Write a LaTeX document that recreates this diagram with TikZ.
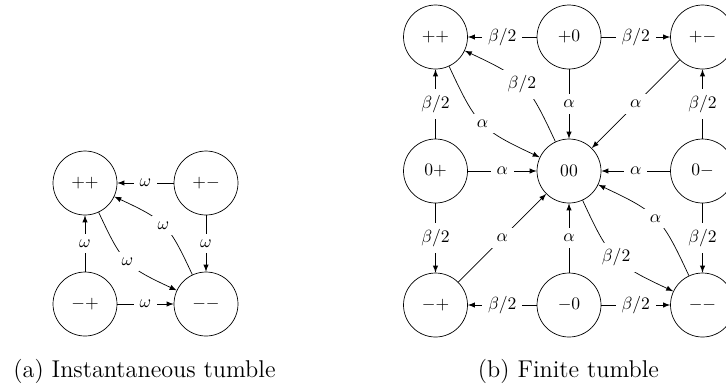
\documentclass[tikz,border=0pt]{standalone}
\usepackage{tikz}
\usetikzlibrary{arrows}

\begin{document}
\begin{tikzpicture}[x=0.02cm,y=-0.02cm,
        state/.style={draw,circle,minimum size=1.28cm,inner sep=0pt},
        lbl/.style={fill=white,midway},
        captext/.style={anchor=base,font=\fontsize{13.8}{16}\selectfont}]
            \useasboundingbox (0,0) rectangle (726,383);
            % (a) instantaneous tumble
            \node[state] (app) at (85,183) {$++$};
            \node[state] (apm) at (206,183) {$+-$};
            \node[state] (amp) at (85,304) {$-+$};
            \node[state] (amm) at (206,304) {$--$};
            \draw[-latex] (apm) -- node[lbl] {$\omega$} (app);
            \draw[-latex] (amp) -- node[lbl] {$\omega$} (app);
            \draw[-latex] (apm) -- node[lbl] {$\omega$} (amm);
            \draw[-latex] (amp) -- node[lbl] {$\omega$} (amm);
            \draw[-latex] (app) to[bend right=20,looseness=1.3] node[lbl] {$\omega$} (amm);
            \draw[-latex] (amm) to[bend right=20,looseness=1.3] node[lbl] {$\omega$} (app);
            \node[captext] (capa) at (144.5,377) {(a) Instantaneous tumble};
            % (b) finite tumble
            \node[state] (bpp) at (435.5,37) {$++$};
            \node[state] (bpz) at (569,37) {$+0$};
            \node[state] (bpm) at (702.5,37) {$+-$};
            \node[state] (bzp) at (435.5,171) {$0+$};
            \node[state] (bzz) at (569,171) {$00$};
            \node[state] (bzm) at (702.5,171) {$0-$};
            \node[state] (bmp) at (435.5,305) {$-+$};
            \node[state] (bmz) at (569,305) {$-0$};
            \node[state] (bmm) at (702.5,305) {$--$};
            \draw[-latex] (bpz) -- node[lbl] {$\beta/2$} (bpp);
            \draw[-latex] (bpz) -- node[lbl] {$\beta/2$} (bpm);
            \draw[-latex] (bmz) -- node[lbl] {$\beta/2$} (bmp);
            \draw[-latex] (bmz) -- node[lbl] {$\beta/2$} (bmm);
            \draw[-latex] (bzp) -- node[lbl] {$\beta/2$} (bpp);
            \draw[-latex] (bzp) -- node[lbl] {$\beta/2$} (bmp);
            \draw[-latex] (bzm) -- node[lbl] {$\beta/2$} (bpm);
            \draw[-latex] (bzm) -- node[lbl] {$\beta/2$} (bmm);
            \draw[-latex] (bpz) -- node[lbl] {$\alpha$} (bzz);
            \draw[-latex] (bmz) -- node[lbl] {$\alpha$} (bzz);
            \draw[-latex] (bzp) -- node[lbl] {$\alpha$} (bzz);
            \draw[-latex] (bzm) -- node[lbl] {$\alpha$} (bzz);
            \draw[-latex] (bpm) -- node[lbl] {$\alpha$} (bzz);
            \draw[-latex] (bmp) -- node[lbl] {$\alpha$} (bzz);
            \draw[-latex] (bpp) to[bend right=20,looseness=1.3] node[lbl] {$\alpha$} (bzz);
            \draw[-latex] (bzz) to[bend right=20,looseness=1.3] node[lbl] {$\beta/2$} (bpp);
            \draw[-latex] (bmm) to[bend right=20,looseness=1.3] node[lbl] {$\alpha$} (bzz);
            \draw[-latex] (bzz) to[bend right=20,looseness=1.3] node[lbl] {$\beta/2$} (bmm);
            \node[captext] (capb) at (568.5,377) {(b) Finite tumble};
        \end{tikzpicture}
\end{document}
